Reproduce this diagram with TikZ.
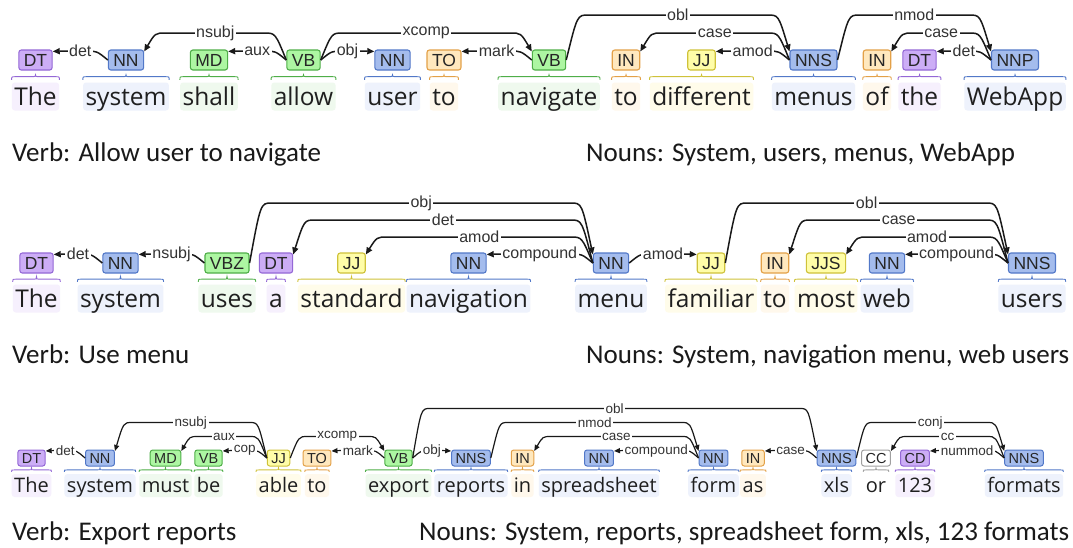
\documentclass[tikz,border=0pt]{standalone}
\usepackage{fontspec}
\usetikzlibrary{arrows.meta,calc}

\newfontfamily\wordfam{Open Sans}
\newfontfamily\tagfam{Liberation Sans}
\newfontfamily\notefam{Carlito}

% part-of-speech colours: fill, border, word highlight
\definecolor{DTF}{HTML}{CCADF6}\definecolor{DTB}{HTML}{9468D6}\definecolor{DTL}{HTML}{F6F0FD}
\definecolor{NNF}{HTML}{A4BCED}\definecolor{NNB}{HTML}{5278C8}\definecolor{NNL}{HTML}{EEF2FC}
\definecolor{VBF}{HTML}{ADF6A2}\definecolor{VBB}{HTML}{4FAE48}\definecolor{VBL}{HTML}{EFF9EE}
\definecolor{INF}{HTML}{FFE8BE}\definecolor{INB}{HTML}{E3A148}\definecolor{INL}{HTML}{FFF8EC}
\definecolor{JJF}{HTML}{FFFDA8}\definecolor{JJB}{HTML}{CFC23A}\definecolor{JJL}{HTML}{FFFCEA}
\definecolor{CCF}{HTML}{FFFFFF}\definecolor{CCB}{HTML}{A0A0A0}\definecolor{CCL}{HTML}{FFFFFF}

% size settings for the two sentence sizes
\newcommand\bigrow{\def\tagfs{17.5}\def\tagth{12.6pt}\def\tagh{20pt}\def\tagxs{5pt}%
  \def\taglw{1.1pt}\def\labfs{16}\def\wordfs{24.5}\def\wordht{22.5pt}\def\worddp{5.5pt}%
  \def\arcslant{22}\def\deplw{1.5pt}\def\arrl{7pt}\def\arrw{6pt}%
  \def\brE{2.5}\def\brP{3}\def\brR{4}\def\arcmargin{2}}
\newcommand\smallrow{\def\tagfs{14.5}\def\tagth{10.4pt}\def\tagh{16pt}\def\tagxs{4pt}%
  \def\taglw{1pt}\def\labfs{13.5}\def\wordfs{20}\def\wordht{18pt}\def\worddp{5pt}%
  \def\arcslant{17}\def\deplw{1.2pt}\def\arrl{6pt}\def\arrw{5pt}%
  \def\brE{2}\def\brP{1.5}\def\brR{3}\def\arcmargin{1.5}}

% one token: word with highlight, POS tag above, curly brace between
% #1 id, #2 x, #3 colour class, #4 tag, #5 word
\newcommand{\tok}[5]{%
  \node[word, fill=#3L] (w#1) at (#2,\wordbase) {#5};
  \node[tag, fill=#3F, draw=#3B] (t#1) at (#2,\tagmid) {#4};
  \coordinate (e#1) at ($(w#1.north)+(0,-\brE)$);
  \coordinate (p#1) at ($(w#1.north |- t#1.south)+(0,\brP)$);
  \coordinate (f#1) at ($(e#1)!0.5!(p#1)$);
  \draw[brace, draw=#3B] (w#1.north west |- e#1)
    .. controls (w#1.north west |- f#1) .. ($(w#1.north west |- f#1)+(\brR,0)$)
    -- ($(f#1)+(-\brR,0)$) .. controls (f#1) .. (p#1)
    .. controls (f#1) .. ($(f#1)+(\brR,0)$)
    -- ($(w#1.north east |- f#1)+(-\brR,0)$)
    .. controls (w#1.north east |- f#1) .. (w#1.north east |- e#1);
}

\newcounter{arcno}
% dependency pointing to the left tag: #1 target (left), #2 head (right), #3 level, #4 label
\newcommand{\depl}[4]{%
  \stepcounter{arcno}%
  \draw[dep] (#2.west)
    .. controls ($(#2.west |- #3)+(-\arcslant/2,0)$) .. ($(#2.west |- #3)+(-\arcslant,0)$)
    -- node[deplabel] (arc\arabic{arcno}) {#4} ($(#1.east |- #3)+(\arcslant,0)$)
    .. controls ($(#1.east |- #3)+(\arcslant/2,0)$) .. ($(#1.north east)+(0,\arcmargin)$);
}
% dependency pointing to the right tag: #1 head (left), #2 target (right), #3 level, #4 label
\newcommand{\depr}[4]{%
  \stepcounter{arcno}%
  \draw[dep] (#1.east)
    .. controls ($(#1.east |- #3)+(\arcslant/2,0)$) .. ($(#1.east |- #3)+(\arcslant,0)$)
    -- node[deplabel] (arc\arabic{arcno}) {#4} ($(#2.west |- #3)+(-\arcslant,0)$)
    .. controls ($(#2.west |- #3)+(-\arcslant/2,0)$) .. ($(#2.north west)+(0,\arcmargin)$);
}

\begin{document}
\begin{tikzpicture}[x=1pt,y=-1pt,
  tag/.style={draw, rounded corners=2.5pt, line width=\taglw, inner xsep=\tagxs, inner ysep=0pt,
    minimum height=\tagh, text height=\tagth, text depth=0pt,
    font=\tagfam\fontsize{\tagfs}{\tagfs}\selectfont, text=black!85},
  word/.style={rounded corners=3pt, inner xsep=2.5pt, inner ysep=0pt, anchor=base,
    text height=\wordht, text depth=\worddp,
    font=\wordfam\fontsize{\wordfs}{\wordfs}\selectfont, text=black!88},
  deplabel/.style={fill=white, inner xsep=1.5pt, inner ysep=0.5pt,
    font=\tagfam\fontsize{\labfs}{\labfs}\selectfont, text=black!80},
  dep/.style={draw=black!90, line width=\deplw, -{Triangle[length=\arrl,width=\arrw]}},
  brace/.style={line width=0.9pt},
  note/.style={font=\notefam\fontsize{27}{30}\selectfont, inner sep=0pt, anchor=base west, text=black!90},
]
\fill[white] (0,0) rectangle (1073,547);
\useasboundingbox (0,0) rectangle (1073,547);

% ---------------- sentence 1 ----------------
\begin{scope}
\bigrow\def\tagmid{60}\def\wordbase{105}
\coordinate (La0) at (0,51);
\coordinate (La1) at (0,33);
\coordinate (La2) at (0,15);
\tok{a1}{35.5}{DT}{DT}{The}
\tok{a2}{126}{NN}{NN}{system}
\tok{a3}{209}{VB}{MD}{shall}
\tok{a4}{303.5}{VB}{VB}{allow}
\tok{a5}{392.5}{NN}{NN}{user}
\tok{a6}{444}{IN}{TO}{to}
\tok{a7}{549}{VB}{VB}{navigate}
\tok{a8}{626}{IN}{IN}{to}
\tok{a9}{701.5}{JJ}{JJ}{different}
\tok{a10}{813.5}{NN}{NNS}{menus}
\tok{a11}{877}{IN}{IN}{of}
\tok{a12}{919.5}{DT}{DT}{the}
\tok{a13}{1015}{NN}{NNP}{WebApp}
\depl{ta1}{ta2}{La0}{det}
\depl{ta2}{ta4}{La1}{nsubj}
\depl{ta3}{ta4}{La0}{aux}
\depr{ta4}{ta5}{La0}{obj}
\depr{ta4}{ta7}{La1}{xcomp}
\depl{ta6}{ta7}{La0}{mark}
\depr{ta7}{ta10}{La2}{obl}
\depl{ta8}{ta10}{La1}{case}
\depl{ta9}{ta10}{La0}{amod}
\depr{ta10}{ta13}{La2}{nmod}
\depl{ta11}{ta13}{La1}{case}
\depl{ta12}{ta13}{La0}{det}
\end{scope}

% ---------------- sentence 2 ----------------
\begin{scope}
\bigrow\def\tagmid{263}\def\wordbase{307}
\coordinate (Lb0) at (0,254);
\coordinate (Lb1) at (0,237);
\coordinate (Lb2) at (0,220);
\coordinate (Lb3) at (0,203);
\tok{b1}{36.5}{DT}{DT}{The}
\tok{b2}{120.5}{NN}{NN}{system}
\tok{b3}{227}{VB}{VBZ}{uses}
\tok{b4}{276}{DT}{DT}{a}
\tok{b5}{351.5}{JJ}{JJ}{standard}
\tok{b6}{468.5}{NN}{NN}{navigation}
\tok{b7}{611}{NN}{NN}{menu}
\tok{b8}{711}{JJ}{JJ}{familiar}
\tok{b9}{775}{IN}{IN}{to}
\tok{b10}{826}{JJ}{JJS}{most}
\tok{b11}{887}{NN}{NN}{web}
\tok{b12}{1032}{NN}{NNS}{users}
\depl{tb1}{tb2}{Lb0}{det}
\depl{tb2}{tb3}{Lb0}{nsubj}
\depr{tb3}{tb7}{Lb3}{obj}
\depl{tb4}{tb7}{Lb2}{det}
\depl{tb5}{tb7}{Lb1}{amod}
\depl{tb6}{tb7}{Lb0}{compound}
\depr{tb7}{tb8}{Lb0}{amod}
\depr{tb8}{tb12}{Lb3}{obl}
\depl{tb9}{tb12}{Lb2}{case}
\depl{tb10}{tb12}{Lb1}{amod}
\depl{tb11}{tb12}{Lb0}{compound}
\end{scope}

% ---------------- sentence 3 ----------------
\begin{scope}
\smallrow\def\tagmid{458}\def\wordbase{492}
\coordinate (Lc0) at (0,450.5);
\coordinate (Lc1) at (0,436.5);
\coordinate (Lc2) at (0,422.5);
\coordinate (Lc3) at (0,408.5);
\tok{c1}{31.5}{DT}{DT}{The}
\tok{c2}{100}{NN}{NN}{system}
\tok{c3}{165.5}{VB}{MD}{must}
\tok{c4}{208.5}{VB}{VB}{be}
\tok{c5}{278.5}{JJ}{JJ}{able}
\tok{c6}{317}{IN}{TO}{to}
\tok{c7}{398.5}{VB}{VB}{export}
\tok{c8}{471}{NN}{NNS}{reports}
\tok{c9}{522.5}{IN}{IN}{in}
\tok{c10}{599}{NN}{NN}{spreadsheet}
\tok{c11}{713.5}{NN}{NN}{form}
\tok{c12}{753}{IN}{IN}{as}
\tok{c13}{836.5}{NN}{NNS}{xls}
\tok{c14}{876}{CC}{CC}{or}
\tok{c15}{915}{DT}{CD}{123}
\tok{c16}{1024}{NN}{NNS}{formats}
\depl{tc1}{tc2}{Lc0}{det}
\depl{tc2}{tc5}{Lc2}{nsubj}
\depl{tc3}{tc5}{Lc1}{aux}
\depl{tc4}{tc5}{Lc0}{cop}
\depr{tc5}{tc7}{Lc1}{xcomp}
\depl{tc6}{tc7}{Lc0}{mark}
\depr{tc7}{tc8}{Lc0}{obj}
\depr{tc7}{tc13}{Lc3}{obl}
\depr{tc8}{tc11}{Lc2}{nmod}
\depl{tc9}{tc11}{Lc1}{case}
\depl{tc10}{tc11}{Lc0}{compound}
\depl{tc12}{tc13}{Lc0}{case}
\depr{tc13}{tc16}{Lc2}{conj}
\depl{tc14}{tc16}{Lc1}{cc}
\depl{tc15}{tc16}{Lc0}{nummod}
\end{scope}

% ---------------- extracted verbs and nouns ----------------
\node[note] (verbA) at (12,161.5) {Verb: Allow user to navigate};
\node[note] (nounA) at (586,161.5) {Nouns: System, users, menus, WebApp};
\node[note] (verbB) at (12,363.5) {Verb: Use menu};
\node[note] (nounB) at (586,363.5) {Nouns: System, navigation menu, web users};
\node[note] (verbC) at (12,540) {Verb: Export reports};
\node[note] (nounC) at (419,540) {Nouns: System, reports, spreadsheet form, xls, 123 formats};
\end{tikzpicture}
\end{document}
